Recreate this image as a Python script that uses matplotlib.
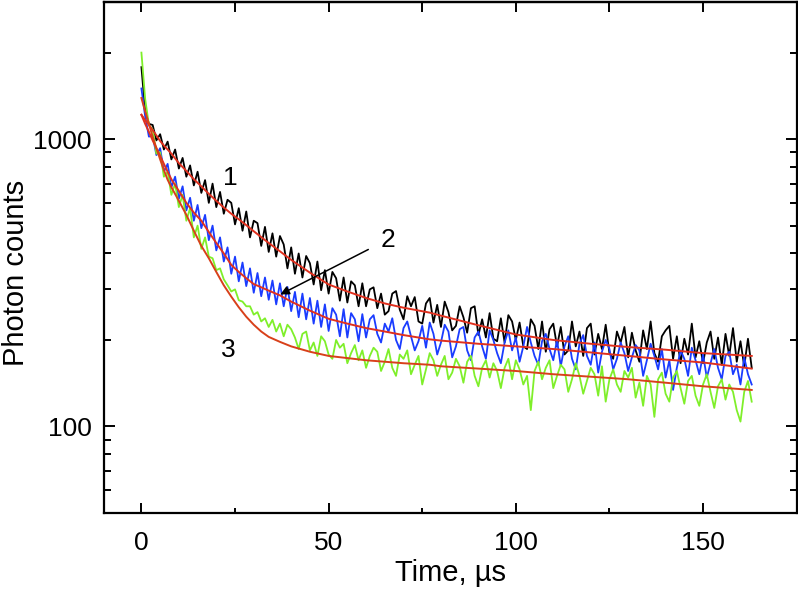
import numpy as np
import matplotlib
matplotlib.use('Agg')
import matplotlib.pyplot as plt
from matplotlib.ticker import LogLocator, FixedLocator, NullFormatter, FuncFormatter

plt.rcParams['font.family'] = ['Liberation Sans', 'DejaVu Sans']
plt.rcParams['font.size'] = 19

# time grid of the measured traces, us
time = np.arange(0, 164, 1.0)

# trace 1 (black)
counts_1 = [
    1780, 1250, 1130, 1120, 990, 1040, 920, 980, 850, 920,
    790, 860, 740, 810, 690, 770, 650, 720, 600, 700,
    580, 655, 550, 615, 600, 505, 575, 480, 560, 455,
    520, 510, 425, 495, 405, 470, 390, 460, 430, 355,
    420, 340, 400, 330, 392, 370, 312, 375, 298, 350,
    290, 345, 328, 274, 330, 270, 320, 310, 262, 315,
    262, 300, 305, 258, 290, 245, 252, 290, 296, 255,
    236, 284, 262, 282, 232, 228, 268, 280, 230, 265,
    222, 272, 250, 216, 224, 262, 240, 212, 258, 262,
    208, 236, 204, 248, 202, 198, 238, 196, 244, 232,
    200, 230, 190, 186, 236, 224, 186, 232, 182, 218,
    228, 190, 222, 178, 184, 232, 190, 214, 176, 220,
    228, 178, 210, 186, 226, 180, 172, 214, 196, 222,
    174, 212, 184, 168, 216, 186, 232, 180, 168, 206,
    216, 224, 172, 206, 166, 202, 178, 228, 174, 198,
    166, 196, 214, 172, 204, 164, 210, 176, 220, 168,
    198, 162, 202, 160,
]

# trace 2 (blue)
counts_2 = [
    1500, 1200, 1020, 1030, 880, 930, 770, 820, 680, 740,
    620, 685, 565, 625, 520, 590, 490, 545, 445, 500,
    410, 455, 375, 420, 340, 390, 320, 372, 308, 355,
    292, 342, 284, 330, 276, 322, 266, 315, 262, 306,
    252, 294, 240, 290, 236, 280, 228, 274, 222, 266,
    215, 258, 245, 206, 256, 204, 248, 236, 198, 246,
    204, 236, 244, 210, 196, 228, 214, 238, 200, 186,
    220, 232, 206, 184, 198, 224, 188, 230, 210, 178,
    196, 226, 214, 174, 190, 218, 222, 184, 170, 204,
    214, 190, 172, 216, 200, 180, 166, 196, 216, 184,
    204, 168, 190, 222, 196, 176, 164, 198, 210, 186,
    170, 200, 162, 190, 206, 172, 158, 194, 208, 176,
    164, 196, 154, 182, 200, 186, 158, 172, 196, 180,
    156, 174, 192, 184, 150, 170, 194, 176, 158, 186,
    148, 170, 134, 160, 184, 172, 150, 188, 170, 152,
    178, 148, 166, 186, 160, 146, 176, 182, 152, 164,
    140, 174, 152, 140,
]

# trace 3 (green)
counts_3 = [
    2000, 1380, 1120, 1080, 890, 900, 740, 770, 640, 700,
    580, 640, 520, 575, 455, 500, 415, 455, 390, 385,
    350, 355, 325, 310, 295, 300, 275, 272, 262, 262,
    245, 250, 232, 238, 222, 235, 214, 228, 206, 226,
    218, 204, 186, 210, 214, 184, 196, 176, 206, 198,
    178, 172, 200, 188, 194, 166, 180, 192, 170, 184,
    160, 176, 188, 182, 156, 168, 186, 160, 150, 178,
    172, 184, 152, 164, 176, 140, 158, 180, 170, 150,
    164, 176, 146, 154, 172, 162, 142, 168, 176, 150,
    138, 160, 170, 148, 166, 156, 136, 160, 172, 146,
    170, 158, 140, 150, 114, 156, 168, 146, 160, 170,
    136, 150, 164, 158, 132, 146, 166, 150, 130, 144,
    160, 152, 128, 162, 122, 146, 158, 140, 132, 156,
    148, 160, 126, 142, 118, 150, 140, 108, 146, 154,
    130, 122, 148, 156, 136, 120, 144, 150, 128, 118,
    140, 152, 132, 116, 138, 146, 124, 140, 132, 114,
    104, 132, 144, 122,
]

# fitted curves (red)
fit_time = [0, 1, 2, 3, 4, 5, 6, 7, 8, 10, 12, 14, 16, 18, 20, 22, 24, 26, 28,
            30, 32, 34, 37, 40, 45, 50, 55, 60, 65, 70, 77, 80, 90, 100, 110,
            120, 130, 140, 150, 163]
fit_1 = [1215, 1165, 1120, 1075, 1030, 985, 950, 920, 890, 825, 775, 725,
         685, 645, 610, 578, 550, 526, 502, 478, 456, 435, 407, 380, 343,
         312, 295, 280, 268, 259, 249, 243, 225, 209, 200, 194, 189, 185,
         180, 176]
fit_2 = [1215, 1130, 1060, 990, 930, 875, 820, 770, 725, 660, 600, 555,
         520, 475, 435, 400, 365, 345, 328, 313, 305, 297, 286, 272, 253,
         237, 228, 220, 214, 208, 201, 199, 194, 190, 186, 181, 176, 171,
         167, 159]
fit_3 = [1390, 1250, 1130, 1020, 930, 850, 780, 722, 680, 610, 545, 480,
         425, 385, 345, 310, 283, 260, 241, 226, 214, 205, 197, 190, 182,
         176, 173, 170, 168, 166, 164, 162, 159, 156, 152, 149, 146, 142,
         138, 134]

fig = plt.figure(figsize=(7.98, 5.91), dpi=100)
ax = fig.add_axes([0.1303, 0.132, 0.868, 0.8646])

ax.plot(time, counts_1, color='black', lw=1.3)
ax.plot(time, counts_2, color='#1a3cff', lw=1.3)
ax.plot(time, counts_3, color='#7fef2a', lw=1.3)
ax.plot(fit_time, fit_1, color='#e0301e', lw=1.4)
ax.plot(fit_time, fit_2, color='#e0301e', lw=1.4)
ax.plot(fit_time, fit_3, color='#d8401a', lw=1.4)

ax.set_yscale('log')
ax.set_xlim(-10, 175)
ax.set_ylim(50, 3000)

ax.set_xticks([0, 50, 100, 150])
ax.xaxis.set_minor_locator(FixedLocator([25, 75, 125, 175]))
ax.yaxis.set_major_locator(FixedLocator([100, 1000]))
ax.yaxis.set_major_formatter(FuncFormatter(lambda v, p: '%d' % v))
ax.yaxis.set_minor_locator(LogLocator(base=10, subs=np.arange(2, 10)))
ax.yaxis.set_minor_formatter(NullFormatter())

ax.tick_params(which='both', direction='in', width=1.4, right=True)
ax.tick_params(axis='x', which='major', length=7, pad=13)
ax.tick_params(axis='x', which='minor', length=3.5)
ax.tick_params(axis='y', which='major', length=8, pad=9)
ax.tick_params(axis='y', which='minor', length=5)

top = ax.secondary_xaxis('top')
top.set_xticks([0, 25, 50, 75, 100, 125, 150, 175])
top.tick_params(direction='in', length=7, width=1.4, labeltop=False)
top.spines['top'].set_linewidth(1.6)

for s in ax.spines.values():
    s.set_linewidth(1.6)

ax.set_xlabel('Time, \u00b5s', fontsize=21, labelpad=3)
ax.set_ylabel('Photon counts', fontsize=21, labelpad=2)
ax.yaxis.label.set_y(0.47)

ax.text(23.8, 734, '1', fontsize=19, ha='center', va='center')
ax.text(65.9, 447, '2', fontsize=19, ha='center', va='center')
ax.text(23.3, 185, '3', fontsize=19, ha='center', va='center')
ax.annotate('', xy=(37.1, 288), xytext=(60.6, 413),
            arrowprops=dict(arrowstyle='-|>', color='black', lw=1.1,
                            mutation_scale=13, shrinkA=0, shrinkB=0))

fig.savefig('out.png', dpi=100)
